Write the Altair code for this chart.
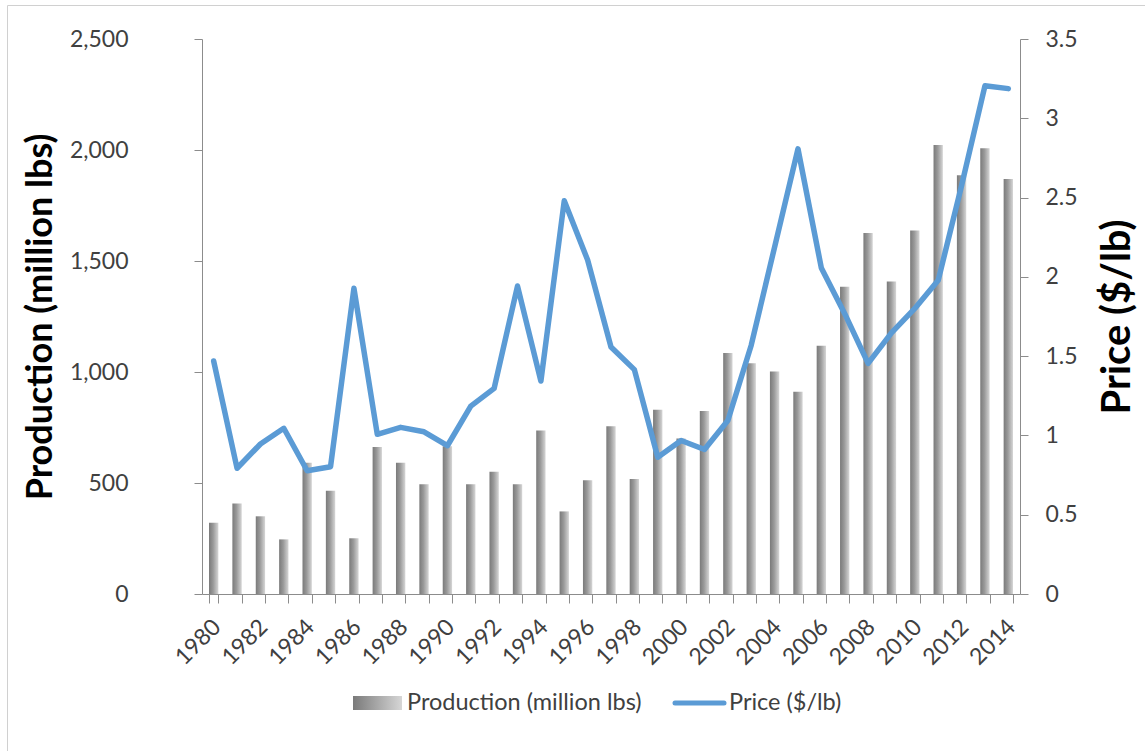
import altair as alt
import pandas as pd

years = list(range(1980, 2015))

production = [321, 408, 350, 246, 591, 465, 251, 662, 591, 494,
              665, 494, 551, 494, 736, 372, 512, 756, 518, 830,
              700, 824, 1086, 1039, 1002, 911, 1118, 1384, 1626, 1408,
              1637, 2023, 1886, 2008, 1869]

price = [1.469, 0.793, 0.946, 1.045, 0.777, 0.803, 1.928, 1.007, 1.051, 1.023,
         0.935, 1.185, 1.297, 1.942, 1.343, 2.480, 2.106, 1.558, 1.415, 0.862,
         0.968, 0.911, 1.094, 1.569, 2.188, 2.807, 2.056, 1.768, 1.454, 1.647,
         1.801, 1.978, 2.575, 3.205, 3.187]

prod_ticks = [0, 500, 1000, 1500, 2000, 2500]
price_ticks = [0, 0.5, 1, 1.5, 2, 2.5, 3, 3.5]

df = pd.DataFrame({"year": years, "production": production, "price": price})

FONT = "Lato"
AXIS_GRAY = "#8c8c8c"
TEXT = "#404040"
BLUE = "#5b9bd5"

W, H = 818, 555
PAD_L, PAD_T = 202, 39

bar_fill = alt.Gradient(
    gradient="linear",
    x1=0, x2=1, y1=0, y2=0,
    stops=[alt.GradientStop(color="#7a7a7a", offset=0),
           alt.GradientStop(color="#9a9a9a", offset=0.45),
           alt.GradientStop(color="#d6d6d6", offset=1)],
)

x_enc = alt.X(
    "year:O",
    scale=alt.Scale(paddingInner=0.6, paddingOuter=0.3),
    axis=alt.Axis(
        title=None,
        labelExpr="datum.value % 2 == 0 ? datum.label : ''",
        labelAngle=-45,
        labelAlign="right",
        labelBaseline="middle",
        labelFont=FONT,
        labelFontSize=23,
        labelColor=TEXT,
        labelPadding=20,
        labelOffset=3,
        tickBand="extent",
        tickSize=9,
        tickColor=AXIS_GRAY,
        domainColor=AXIS_GRAY,
    ),
)

bars = alt.Chart(df).mark_bar(color=bar_fill).encode(
    x=x_enc,
    y=alt.Y(
        "production:Q",
        scale=alt.Scale(domain=[0, 2500], nice=False),
        axis=alt.Axis(
            values=prod_ticks,
            labelExpr="format(datum.value, ',')",
            title="Production (million lbs)",
            titleFont=FONT,
            titleFontSize=36,
            titleFontWeight="bold",
            titleColor="#000000",
            titleAngle=-90,
            titleAlign="center",
            titleBaseline="middle",
            titleX=-162,
            titleY=H / 2,
            labelFont=FONT,
            labelFontSize=23,
            labelColor=TEXT,
            labelPadding=66,
            tickSize=8,
            tickColor=AXIS_GRAY,
            domainColor=AXIS_GRAY,
            grid=False,
        ),
    ),
)

line = alt.Chart(df).mark_line(
    color=BLUE, strokeWidth=5.5, strokeJoin="round", strokeCap="round"
).encode(
    x=alt.X("year:O"),
    y=alt.Y(
        "price:Q",
        scale=alt.Scale(domain=[0, 3.5], nice=False),
        axis=alt.Axis(
            orient="right",
            values=price_ticks,
            labelExpr="format(datum.value, '~g')",
            title="Price ($/lb)",
            titleFont=FONT,
            titleFontSize=40,
            titleFontWeight="bold",
            titleColor="#000000",
            titleAngle=-90,
            titleAlign="center",
            titleBaseline="middle",
            titleX=97,
            titleY=H / 2,
            labelFont=FONT,
            labelFontSize=23,
            labelColor=TEXT,
            labelPadding=17,
            tickSize=8,
            tickColor=AXIS_GRAY,
            domainColor=AXIS_GRAY,
            grid=False,
        ),
    ),
)

# legend row below the plot
one = pd.DataFrame({"k": [0]})
leg_y = 703 - PAD_T

leg_bar = alt.Chart(one).mark_rect(
    color=alt.Gradient(
        gradient="linear", x1=0, x2=1, y1=0, y2=0,
        stops=[alt.GradientStop(color="#7a7a7a", offset=0),
               alt.GradientStop(color="#d6d6d6", offset=1)],
    )
).encode(
    x=alt.value(353 - PAD_L), x2=alt.value(402 - PAD_L),
    y=alt.value(leg_y - 7), y2=alt.value(leg_y + 7),
)
leg_bar_txt = alt.Chart(one).mark_text(
    align="left", baseline="middle", font=FONT, fontSize=23.5, color=TEXT
).encode(
    x=alt.value(407 - PAD_L), y=alt.value(leg_y),
    text=alt.value("Production (million lbs)"),
)
leg_line = alt.Chart(one).mark_rule(
    color=BLUE, strokeWidth=5, strokeCap="round"
).encode(
    x=alt.value(675 - PAD_L), x2=alt.value(724 - PAD_L), y=alt.value(leg_y),
)
leg_line_txt = alt.Chart(one).mark_text(
    align="left", baseline="middle", font=FONT, fontSize=23.5, color=TEXT
).encode(
    x=alt.value(729 - PAD_L), y=alt.value(leg_y),
    text=alt.value("Price ($/lb)"),
)

# outer frame of the chart area
frame_left = alt.Chart(one).mark_rule(color="#d0d0d0", strokeWidth=1).encode(
    x=alt.value(7.5 - PAD_L), y=alt.value(5.5 - PAD_T), y2=alt.value(760 - PAD_T),
)
frame_top = alt.Chart(one).mark_rule(color="#d0d0d0", strokeWidth=1).encode(
    x=alt.value(7.5 - PAD_L), x2=alt.value(1160 - PAD_L), y=alt.value(5.5 - PAD_T),
)

main = alt.layer(bars, line).resolve_scale(y="independent")

chart = alt.layer(
    main, leg_bar, leg_bar_txt, leg_line, leg_line_txt, frame_left, frame_top
).properties(
    width=W,
    height=H,
    autosize="none",
    padding={"left": PAD_L, "top": PAD_T, "right": 1145 - PAD_L - W, "bottom": 751 - PAD_T - H},
    background="white",
).configure_view(stroke=None)

chart.save("out.html", embed_options={"renderer": "svg", "actions": False})
